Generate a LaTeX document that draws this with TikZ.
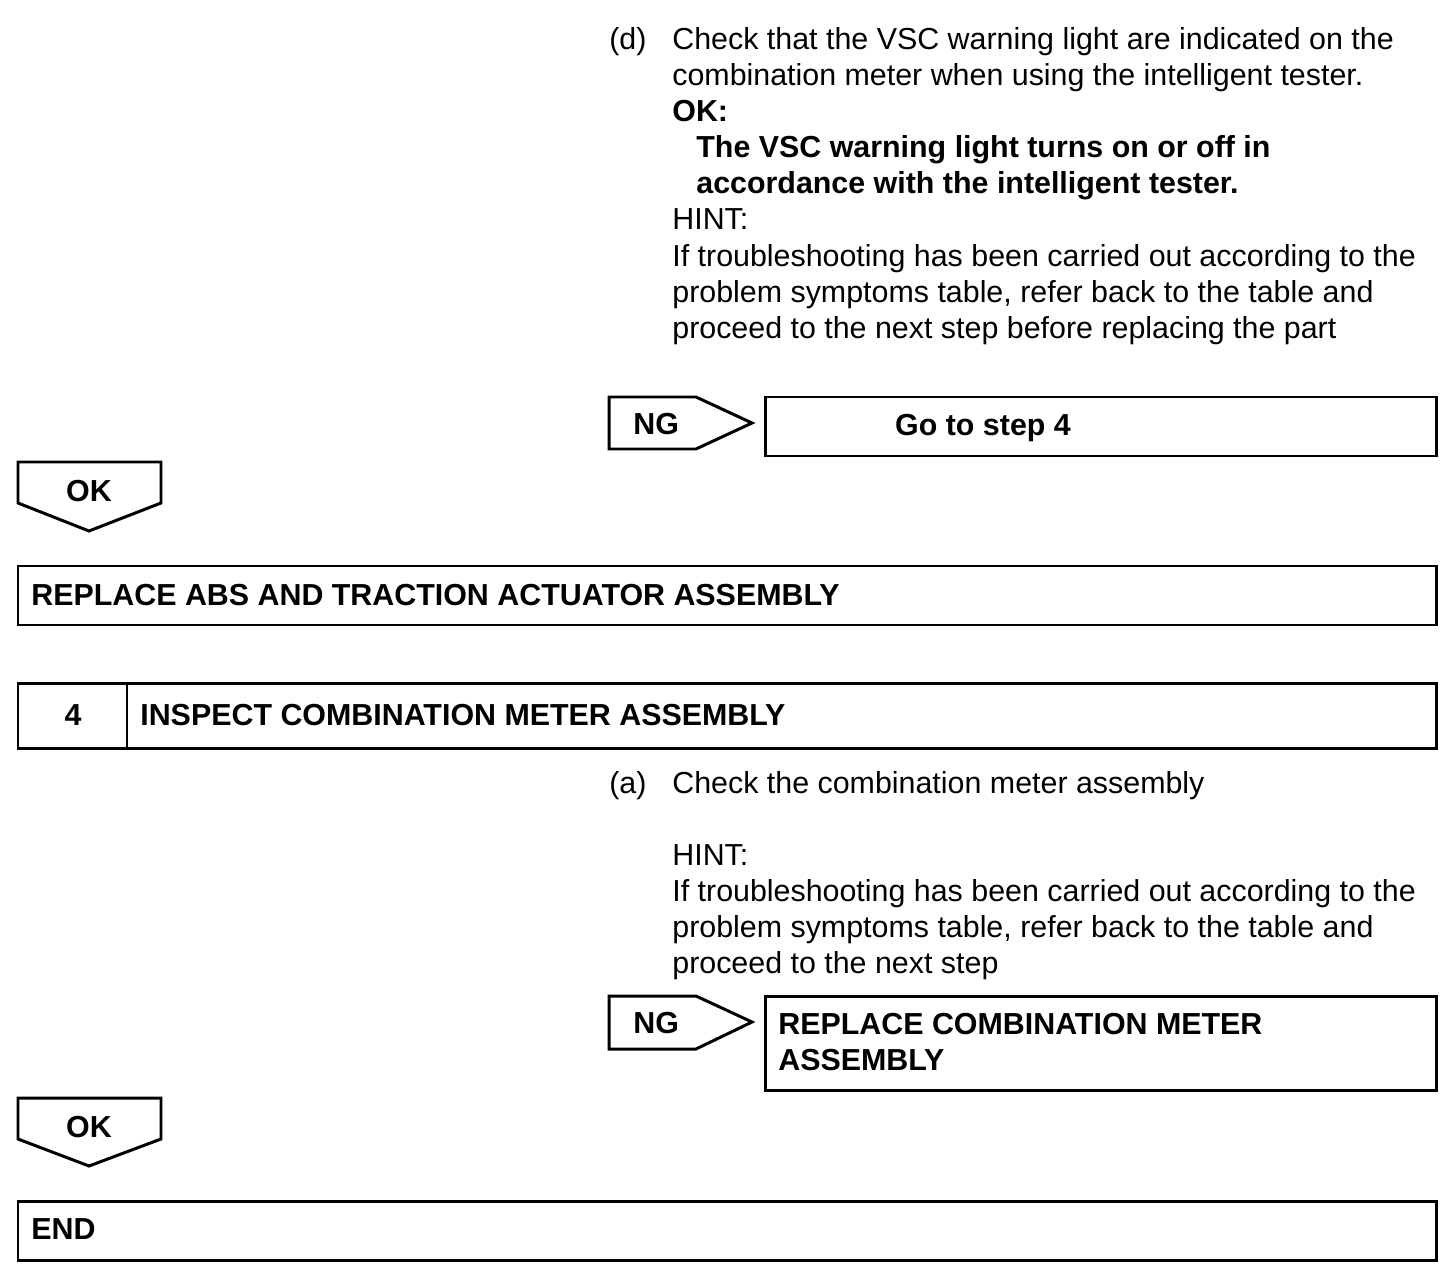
\documentclass[tikz,border=0pt]{standalone}
\usepackage{fontspec}
\setmainfont{Liberation Sans}
\usepackage{tikz}
\usetikzlibrary{positioning}
\newcommand{\manfont}{\fontsize{17.3}{20.4}\selectfont}

\begin{document}
\begin{tikzpicture}[x=0.02cm, y=-0.02cm,
  txt/.style={anchor=base west, inner sep=0pt, font=\manfont},
  btxt/.style={anchor=base west, inner sep=0pt, font=\manfont\bfseries},
  ctxt/.style={anchor=base, inner sep=0pt, font=\manfont\bfseries},
  stepbox/.style={draw, line width=1.7pt, line join=miter},
  tag/.style={draw, line width=1.7pt, line join=miter}
]
\useasboundingbox (0,0) rectangle (1456,1284);
% check (d)
\node[txt] (d) at (609,50) {(d)};
\node[txt] (d1) at (672,50) {Check that the VSC warning light are indicated on the};
\node[txt] (d2) at (672,86) {combination meter when using the intelligent tester.};
\node[btxt] (ok) at (672,122) {OK:};
\node[btxt] (ok1) at (696,158) {The VSC warning light turns on or off in};
\node[btxt] (ok2) at (696,194) {accordance with the intelligent tester.};
\node[txt] (hint1) at (672,230) {HINT:};
\node[txt] (h1a) at (672,266) {If troubleshooting has been carried out according to the};
\node[txt] (h1b) at (672,302) {problem symptoms table, refer back to the table and};
\node[txt] (h1c) at (672,338) {proceed to the next step before replacing the part};
% NG -> step 4
\draw[tag] (609,397) -- (696,397) -- (752,423) -- (696,449) -- (609,449) -- cycle;
\node[btxt] (ng1) at (633,434) {NG};
\draw[stepbox] (765,397) rectangle (1436,456);
\node[ctxt] (goto) at (983,435) {Go to step 4};
% OK -> replace actuator
\draw[tag] (18,462) -- (161,462) -- (161,503) -- (89,531) -- (18,503) -- cycle;
\node[ctxt] (ok3) at (89,501) {OK};
\draw[stepbox] (18,566) rectangle (1436,625);
\node[btxt] (repabs) at (31,605) {REPLACE ABS AND TRACTION ACTUATOR ASSEMBLY};
% step 4
\draw[stepbox] (18,683) rectangle (1436,748);
\draw[stepbox] (127,683) -- (127,748);
\node[ctxt] (num4) at (73,725) {4};
\node[btxt] (insp) at (140,725) {INSPECT COMBINATION METER ASSEMBLY};
% check (a)
\node[txt] (a) at (609,793) {(a)};
\node[txt] (a1) at (672,793) {Check the combination meter assembly};
\node[txt] (hint2) at (672,865) {HINT:};
\node[txt] (h2a) at (672,901) {If troubleshooting has been carried out according to the};
\node[txt] (h2b) at (672,937) {problem symptoms table, refer back to the table and};
\node[txt] (h2c) at (672,973) {proceed to the next step};
% NG -> replace meter
\draw[tag] (609,996) -- (696,996) -- (752,1022) -- (696,1049) -- (609,1049) -- cycle;
\node[btxt] (ng2) at (633,1033) {NG};
\draw[stepbox] (765,996) rectangle (1436,1090);
\node[btxt] (repm1) at (778,1034) {REPLACE COMBINATION METER};
\node[btxt] (repm2) at (778,1070) {ASSEMBLY};
% OK -> end
\draw[tag] (18,1098) -- (161,1098) -- (161,1139) -- (89,1166) -- (18,1139) -- cycle;
\node[ctxt] (ok4) at (89,1137) {OK};
\draw[stepbox] (18,1201) rectangle (1436,1260);
\node[btxt] (fin) at (31,1239) {END};
\end{tikzpicture}
\end{document}
